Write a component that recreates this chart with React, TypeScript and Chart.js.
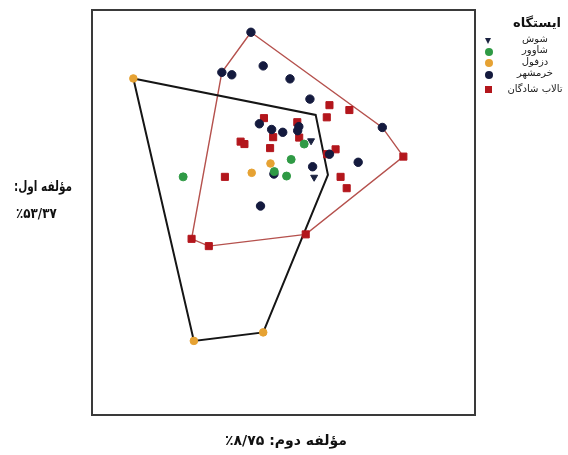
import React, { useEffect, useRef } from "react";
import { Chart, registerables } from "chart.js";

Chart.register(...registerables);

// Legend / series names
const legendTitle = "ایستگاه";
const seriesNames = ["شوش", "شاوور", "دزفول", "خرمشهر", "تالاب شادگان"];
const seriesColors = ["#1b2240", "#2f9a45", "#e6a233", "#141a3e", "#b3161c"];

// Shush (triangles)
const shushX = [57.2, 58.0];
const shushY = [67.7, 58.7];
// Shavur (green)
const shavurX = [23.8, 55.4, 52.0, 50.8, 47.6];
const shavurY = [58.8, 66.9, 63.1, 59.0, 60.1];
// Dezful (orange)
const dezfulX = [10.8, 46.6, 41.7, 44.7, 26.6];
const dezfulY = [83.1, 62.1, 59.8, 20.4, 18.3];
// Khorramshahr (navy)
const khorramX = [41.5, 33.9, 36.5, 44.7, 51.7, 56.9, 75.8, 43.7, 46.9, 49.8, 54.0, 53.7, 69.5, 57.6, 62.0, 47.5, 44.0];
const khorramY = [94.5, 84.6, 84.0, 86.2, 83.0, 78.0, 71.0, 71.9, 70.5, 69.8, 71.2, 70.2, 62.4, 61.3, 64.4, 59.5, 51.6];
// Shadegan wetland (red squares)
const shadeganX = [62.0, 67.2, 61.3, 44.9, 53.6, 47.3, 54.1, 38.8, 39.8, 46.5, 63.6, 61.4, 81.3, 34.7, 64.9, 66.5, 55.8, 30.5, 26.0];
const shadeganY = [76.5, 75.3, 73.5, 73.3, 72.3, 68.6, 68.5, 67.5, 66.9, 65.9, 65.6, 64.4, 63.8, 58.8, 58.8, 56.0, 44.6, 41.7, 43.5];

// Hull polygons
const hullBlackX = [10.8, 58.4, 61.6, 44.7, 26.6, 10.8];
const hullBlackY = [83.1, 74.1, 59.3, 20.4, 18.3, 83.1];
const hullRedX = [41.5, 75.8, 81.3, 55.8, 30.5, 26.0, 33.9, 41.5];
const hullRedY = [94.5, 71.0, 63.8, 44.6, 41.7, 43.5, 84.6, 94.5];

// Axis titles
const yTitleText = "مؤلفه اول:";
const yTitleValue = "۵۳/۳۷٪";
const xTitleText = "مؤلفه دوم:";
const xTitleValue = "۸/۷۵٪";

const zip = (xs: number[], ys: number[]) => xs.map((x, i) => ({ x, y: ys[i] }));

const framePlugin = {
  id: "frame",
  afterDraw(chart: any) {
    const { ctx, chartArea } = chart;
    ctx.save();
    ctx.strokeStyle = "#3a3a3a";
    ctx.lineWidth = 2;
    ctx.strokeRect(chartArea.left, chartArea.top, chartArea.right - chartArea.left, chartArea.bottom - chartArea.top);
    ctx.restore();
  },
};

export default function App() {
  const ref = useRef<HTMLCanvasElement>(null);
  useEffect(() => {
    if (!ref.current) return;
    const pointDs = (label: string, xs: number[], ys: number[], color: string, style: any, radius: number, rotation = 0, order = 0) => ({
      type: "scatter" as const,
      label,
      data: zip(xs, ys),
      backgroundColor: color,
      borderColor: color,
      pointStyle: style,
      pointRadius: radius,
      pointRotation: rotation,
      borderWidth: 1,
      order,
    });
    const chart = new Chart(ref.current, {
      type: "scatter",
      data: {
        datasets: [
          pointDs(seriesNames[4], shadeganX, shadeganY, seriesColors[4], "rect", 5, 0, 3),
          pointDs(seriesNames[3], khorramX, khorramY, seriesColors[3], "circle", 4.2, 0, 2),
          pointDs(seriesNames[2], dezfulX, dezfulY, seriesColors[2], "circle", 3.8, 0, 1),
          pointDs(seriesNames[1], shavurX, shavurY, seriesColors[1], "circle", 4, 0, 1),
          pointDs(seriesNames[0], shushX, shushY, seriesColors[0], "triangle", 4, 180, 0),
          {
            type: "scatter" as const,
            label: "hull-red",
            data: zip(hullRedX, hullRedY),
            showLine: true,
            borderColor: "#b5514d",
            borderWidth: 1.4,
            pointRadius: 0,
            fill: false,
            order: 10,
          },
          {
            type: "scatter" as const,
            label: "hull-black",
            data: zip(hullBlackX, hullBlackY),
            showLine: true,
            borderColor: "#151515",
            borderWidth: 2,
            pointRadius: 0,
            fill: false,
            order: 9,
          },
        ] as any,
      },
      options: {
        responsive: false,
        animation: false,
        layout: { padding: { left: 92, top: 10, right: 93, bottom: 40 } },
        scales: {
          x: { type: "linear", min: 0, max: 100, display: false },
          y: { type: "linear", min: 0, max: 100, display: false },
        },
        plugins: { legend: { display: false }, tooltip: { enabled: false } },
      },
      plugins: [framePlugin],
    });
    return () => chart.destroy();
  }, []);

  const legendMarkerY = [41, 52, 63, 75, 89];
  const legendTextY = [39, 50, 62, 73, 89];
  const font = "'DejaVu Sans', sans-serif";

  const marker = (i: number) => {
    const c = seriesColors[i];
    const top = legendMarkerY[i];
    if (i === 0)
      return (
        <div key={"m" + i} style={{ position: "absolute", left: 485, top: top - 3, width: 0, height: 0, borderLeft: "3.5px solid transparent", borderRight: "3.5px solid transparent", borderTop: "6px solid " + c }} />
      );
    if (i === 4)
      return <div key={"m" + i} style={{ position: "absolute", left: 485, top: top - 3.5, width: 7, height: 7, background: c }} />;
    return <div key={"m" + i} style={{ position: "absolute", left: 484.5, top: top - 4, width: 8, height: 8, borderRadius: "50%", background: c }} />;
  };

  return (
    <div style={{ position: "fixed", left: 0, top: 0, width: 568, height: 455, background: "#fff", overflow: "hidden", fontFamily: font }}>
      <canvas ref={ref} width={568} height={455} style={{ position: "absolute", left: 0, top: 0, width: 568, height: 455 }} />
      <div style={{ position: "absolute", left: 497, width: 80, top: 23 - 10, height: 20, lineHeight: "20px", textAlign: "center", fontWeight: "bold", fontSize: 13, color: "#111", direction: "rtl" }}>{legendTitle}</div>
      {seriesNames.map((n, i) => (
        <div key={"t" + i} style={{ position: "absolute", left: 490, width: 90, top: legendTextY[i] - 7, height: 14, lineHeight: "14px", textAlign: "center", fontSize: 10, color: "#222", direction: "rtl", whiteSpace: "nowrap" }}>{n}</div>
      ))}
      {seriesNames.map((_, i) => marker(i))}
      <div style={{ position: "absolute", left: 14, top: 186 - 10, height: 20, lineHeight: "20px", fontWeight: "bold", fontSize: 14, color: "#111", direction: "rtl", whiteSpace: "nowrap", transform: "scaleX(0.75)", transformOrigin: "left center" }}>
        {yTitleText}
      </div>
      <div style={{ position: "absolute", left: 16, top: 213 - 10, height: 20, lineHeight: "20px", fontWeight: "bold", fontSize: 14, color: "#111", direction: "rtl", whiteSpace: "nowrap", transform: "scaleX(0.85)", transformOrigin: "left center" }}>
        {"\u061C" + yTitleValue}
      </div>
      <div style={{ position: "absolute", left: 186, width: 200, top: 440 - 10, height: 20, lineHeight: "20px", textAlign: "center", fontWeight: "bold", fontSize: 14, color: "#111", direction: "rtl", whiteSpace: "nowrap" }}>
        {xTitleText + " " + xTitleValue}
      </div>
    </div>
  );
}
